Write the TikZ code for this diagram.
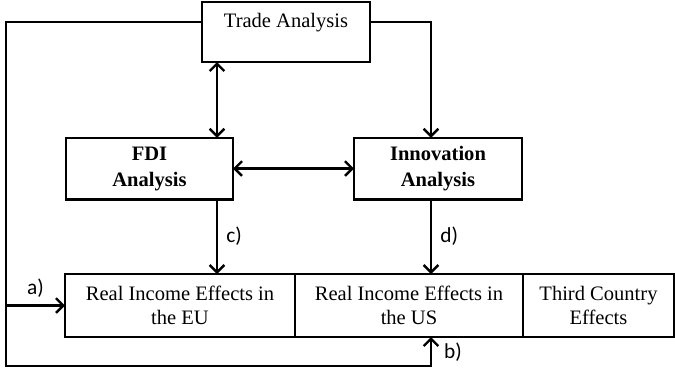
\documentclass[tikz,border=0pt]{standalone}
\usepackage{fontspec}
\setmainfont{Liberation Serif}
\newfontfamily\tagfont{Carlito}
\usetikzlibrary{arrows.meta,positioning}

\begin{document}
\begin{tikzpicture}[x=0.75pt,y=-0.75pt,align=center,font=\fontsize{15.4}{18}\selectfont]
\tikzstyle{block}=[draw=black,line width=2pt,inner sep=0pt,outer sep=0pt,minimum height=46pt]
\tikzstyle{link}=[line width=2pt,-{Straight Barb[length=5.5pt,width=11pt,line width=1.8pt]}]
\tikzstyle{twoway}=[line width=2pt,{Straight Barb[length=5.5pt,width=11pt,line width=1.8pt]}-{Straight Barb[length=5.5pt,width=11pt,line width=1.8pt]}]
\tikzstyle{tag}=[font=\tagfont\fontsize{16}{18}\selectfont,inner sep=1pt]

\useasboundingbox (0,0) rectangle (675,369);

% boxes
\node[block,minimum width=126pt,minimum height=45pt] (trade) at (286,32) {Trade Analysis\\~};
\node[block,minimum width=125.25pt,font=\fontsize{15.4}{19.5}\selectfont\bfseries] (fdi) at (149.5,168.5) {FDI\\Analysis};
\node[block,minimum width=126pt,font=\fontsize{15.4}{19.5}\selectfont\bfseries] (innov) at (438,168.5) {Innovation\\Analysis};
\node[block,minimum width=172.5pt,minimum height=47.25pt] (eu) at (180,305.5) {Real Income Effects in\\the EU};
\node[block,minimum width=171pt,minimum height=47.25pt,right=0pt of eu] (us) {Real Income Effects in\\the US};
\node[block,minimum width=113.25pt,minimum height=47.25pt,right=0pt of us] (third) {Third Country\\Effects};

% helper points
\coordinate (col1) at (217,0);
\coordinate (col2) at (431,0);
\coordinate (row0) at (0,22);
\coordinate (loopTL) at (6,22);
\coordinate (loopBL) at (6,366);

% connectors
\draw[twoway] (trade.south -| col1) -- (fdi.north -| col1);
\draw[link] (trade.east |- row0) -| (innov.north -| col2);
\draw[twoway] (fdi.east) -- (innov.west);
\draw[link] (fdi.south -| col1) -- (eu.north -| col1) node[tag,midway,right=5pt] (clab) {c)};
\draw[link] (innov.south -| col2) -- (us.north -| col2) node[tag,midway,right=5pt] (dlab) {d)};
\draw[link] (trade.west |- row0) -- (loopTL) -- (loopBL) -| (us.south -| col2);
\draw[link] (loopBL |- eu.west) -- (eu.west) node[tag,midway,above=4pt] (alab) {a)};
\node[tag] (blab) at (453,352) {b)};
\end{tikzpicture}
\end{document}
